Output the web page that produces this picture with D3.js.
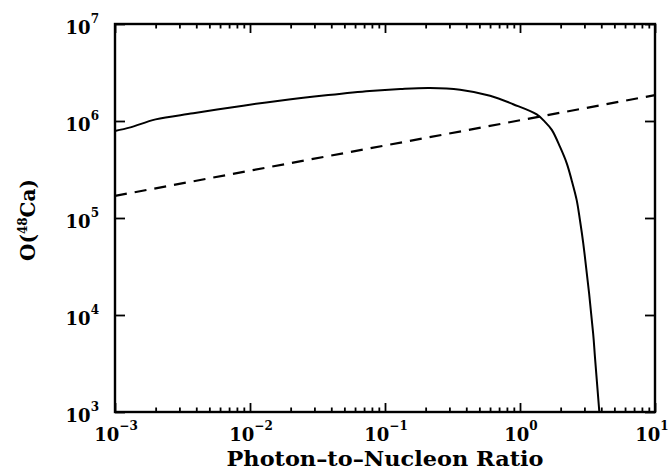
<!DOCTYPE html>
<html>
<head>
<meta charset="utf-8">
<script src="https://cdn.jsdelivr.net/npm/d3@7"></script>
<style>
  body { margin: 0; background: #fff; }
  text { font-family: "DejaVu Serif", serif; font-weight: bold; fill: #000; }
</style>
</head>
<body>
<svg id="chart" width="671" height="470"></svg>
<script>
// abundance of 48Ca vs photon-to-nucleon ratio
var solidX = [1e-3, 1.3e-3, 2e-3, 3.8e-3, 8.9e-3, 1.6e-2, 3.8e-2, 7.7e-2, 0.13, 0.215, 0.36, 0.60, 0.89, 1.33, 1.53, 1.72, 1.98, 2.22, 2.41, 2.63, 2.78, 2.94, 3.48, 3.59, 3.87]
var solidY = [7.9e5, 8.6e5, 1.04e6, 1.2e6, 1.44e6, 1.61e6, 1.85e6, 2.04e6, 2.14e6, 2.19e6, 2.10e6, 1.82e6, 1.49e6, 1.17e6, 9.8e5, 8.1e5, 5.4e5, 3.66e5, 2.47e5, 1.53e5, 9.5e4, 5.5e4, 6.5e3, 3.7e3, 1.0e3]
var dashX = [1e-3, 10]
var dashY = [1.69e5, 1.85e6]

var xExp = [-3, -2, -1, 0, 1]
var yExp = [3, 4, 5, 6, 7]

var svg = d3.select("#chart")
var pLeft = 115, pRight = 655, pTop = 24, pBottom = 412

var x = d3.scaleLog().domain([1e-3, 10]).range([pLeft, pRight])
var y = d3.scaleLog().domain([1e3, 1e7]).range([pBottom, pTop])

// minor ticks 2..9 in every decade
var minor = []
xExp.slice(0, -1).forEach(function(e) {
  for (var k = 2; k < 10; k++) minor.push(k * Math.pow(10, e))
})
var majorX = xExp.map(function(e) { return Math.pow(10, e) })
var majorY = yExp.map(function(e) { return Math.pow(10, e) })

function tickAxis(axisFn, scale, values, len, tr) {
  var g = svg.append("g").attr("transform", tr)
    .call(axisFn(scale).tickValues(values).tickSizeInner(-len).tickSizeOuter(0).tickFormat(""))
  g.select(".domain").remove()
  g.selectAll(".tick line").attr("stroke", "#000").attr("stroke-width", 1.8)
}
tickAxis(d3.axisBottom, x, minor, 4.5, "translate(0," + pBottom + ")")
tickAxis(d3.axisBottom, x, majorX, 9, "translate(0," + pBottom + ")")
tickAxis(d3.axisTop, x, minor, 4.5, "translate(0," + pTop + ")")
tickAxis(d3.axisTop, x, majorX, 9, "translate(0," + pTop + ")")
tickAxis(d3.axisLeft, y, majorY, 10, "translate(" + pLeft + ",0)")
tickAxis(d3.axisRight, y, majorY, 10, "translate(" + pRight + ",0)")

// frame
svg.append("rect")
  .attr("x", pLeft).attr("y", pTop)
  .attr("width", pRight - pLeft).attr("height", pBottom - pTop)
  .attr("fill", "none").attr("stroke", "#000").attr("stroke-width", 2.4)

// curves
var line = d3.line()
  .x(function(d) { return x(d[0]) })
  .y(function(d) { return y(d[1]) })
  .curve(d3.curveCatmullRom.alpha(0.5))

svg.append("path")
  .datum(d3.zip(solidX, solidY))
  .attr("d", line)
  .attr("fill", "none").attr("stroke", "#000").attr("stroke-width", 2)

svg.append("path")
  .datum(d3.zip(dashX, dashY))
  .attr("d", line)
  .attr("fill", "none").attr("stroke", "#000").attr("stroke-width", 2.2)
  .attr("stroke-dasharray", "12,8")

// tick labels as 10^n
function powerLabel(g, e) {
  g.append("tspan").text("10")
  g.append("tspan").attr("dy", -11).attr("font-size", 12).text(e < 0 ? "\u2212" + (-e) : String(e))
}
xExp.forEach(function(e, i) {
  var t = svg.append("text")
    .attr("x", x(Math.pow(10, e)) + (i === xExp.length - 1 ? -3 : 1)).attr("y", 441)
    .attr("text-anchor", "middle").attr("font-size", 18)
  powerLabel(t, e)
})
yExp.forEach(function(e) {
  var t = svg.append("text")
    .attr("x", 99).attr("y", y(Math.pow(10, e)) + 9.5)
    .attr("text-anchor", "end").attr("font-size", 18)
  powerLabel(t, e)
})

// axis titles
svg.append("text")
  .attr("x", (pLeft + pRight) / 2).attr("y", 466)
  .attr("text-anchor", "middle").attr("font-size", 21)
  .attr("textLength", 317).attr("lengthAdjust", "spacingAndGlyphs")
  .text("Photon\u2013to\u2013Nucleon Ratio")

var yl = svg.append("text")
  .attr("transform", "translate(35," + ((pTop + pBottom) / 2 + 2) + ") rotate(-90)")
  .attr("text-anchor", "middle").attr("font-size", 20)
yl.append("tspan").text("O(")
yl.append("tspan").attr("dy", -8).attr("font-size", 12).text("48")
yl.append("tspan").attr("dy", 8).text("Ca)")
</script>
</body>
</html>
